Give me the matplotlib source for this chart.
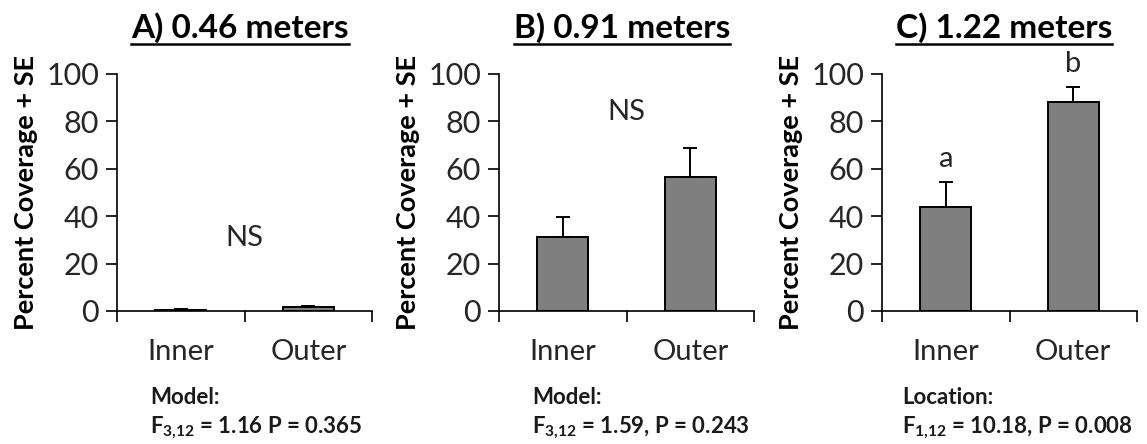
import matplotlib
matplotlib.use('Agg')
import matplotlib.pyplot as plt
from matplotlib.lines import Line2D

plt.rcParams['font.family'] = ['Lato', 'DejaVu Sans']
plt.rcParams['mathtext.fontset'] = 'custom'
plt.rcParams['mathtext.rm'] = 'Lato'
plt.rcParams['mathtext.bf'] = 'Lato:bold'

# percent coverage by location, three heights
locations = ['Inner', 'Outer']
titles = ['A) 0.46 meters', 'B) 0.91 meters', 'C) 1.22 meters']
means_a = [0.5, 1.8]
se_a = [0.2, 0.5]
means_b = [31.1, 56.7]
se_b = [8.6, 11.9]
means_c = [44.0, 88.3]
se_c = [10.6, 6.3]
letters_c = ['a', 'b']
stat_heads = ['Model:', 'Model:', 'Location:']
stat_lines = [r'F$_\mathbf{3{,}12}$ = 1.16 P = 0.365',
              r'F$_\mathbf{3{,}12}$ = 1.59, P = 0.243',
              r'F$_\mathbf{1{,}12}$ = 10.18, P = 0.008']

W, H = 1147, 444
fig = plt.figure(figsize=(W / 100, H / 100), dpi=100)

lefts = [117, 499, 882]
ax_w, ax_top, ax_bot = 255, 74, 311
axes = []
for lx in lefts:
    axes.append(fig.add_axes([lx / W, 1 - ax_bot / H, ax_w / W, (ax_bot - ax_top) / H]))

xpos = [0.5, 1.5]
for ax, means, se, title in zip(axes, [means_a, means_b, means_c], [se_a, se_b, se_c], titles):
    ax.bar(xpos, means, width=0.4, color='#7f7f7f', edgecolor='black', linewidth=1.4,
           yerr=[[0, 0], se], capsize=5, error_kw=dict(ecolor='black', elinewidth=1.4, capthick=1.4),
           zorder=2)
    ax.set_xlim(0, 2)
    ax.set_ylim(0, 100)
    ax.set_yticks([0, 20, 40, 60, 80, 100])
    ax.set_xticks([0, 1, 2])
    ax.set_xticklabels([])
    ax.set_xticks(xpos, minor=True)
    ax.set_xticklabels(locations, minor=True)
    ax.tick_params(axis='x', which='minor', length=0, pad=20, labelsize=21)
    ax.tick_params(axis='x', which='major', length=8, width=1.2, direction='out')
    ax.tick_params(axis='y', length=8, width=1.2, direction='out', labelsize=22, pad=5)
    ax.tick_params(colors='black', which='both', labelcolor='#262626')
    for s in ['top', 'right']:
        ax.spines[s].set_visible(False)
    for s in ['left', 'bottom']:
        ax.spines[s].set_linewidth(1.2)
    ax.set_ylabel('Percent Coverage + SE', fontsize=19.5, fontweight='bold', labelpad=6)
    ax.patch.set_alpha(0)

axes[0].text(1.0, 31, 'NS', ha='center', va='center', fontsize=21, color='#262626')
axes[1].text(1.0, 84, 'NS', ha='center', va='center', fontsize=21, color='#262626')
for x, m, s, lab in zip(xpos, means_c, se_c, letters_c):
    axes[2].text(x, m + s + 4, lab, ha='center', va='bottom', fontsize=21, color='#262626')

# titles above each panel, underlined
title_cx = [240, 622, 1004]
title_objs = []
for cx, t in zip(title_cx, titles):
    title_objs.append(fig.text(cx / W, 1 - 28 / H, t, ha='center', va='center',
                               fontsize=24, fontweight='bold'))

# statistics below each panel
stat_x = [150, 532, 902]
for sx, head, line in zip(stat_x, stat_heads, stat_lines):
    fig.text(sx / W, 1 - 397 / H, head, ha='left', va='center', fontsize=16, fontweight='bold',
             color='#1a1a1a')
    fig.text(sx / W, 1 - 428 / H, line, ha='left', va='center', fontsize=16, fontweight='bold',
             color='#1a1a1a')

fig.canvas.draw()
r = fig.canvas.get_renderer()
for t in title_objs:
    bb = t.get_window_extent(r)
    y = bb.y0 - 1
    fig.add_artist(Line2D([bb.x0 / W, bb.x1 / W], [y / H, y / H], color='black', lw=1.8,
                          transform=fig.transFigure))

fig.savefig('out.png', dpi=100, facecolor='white')
